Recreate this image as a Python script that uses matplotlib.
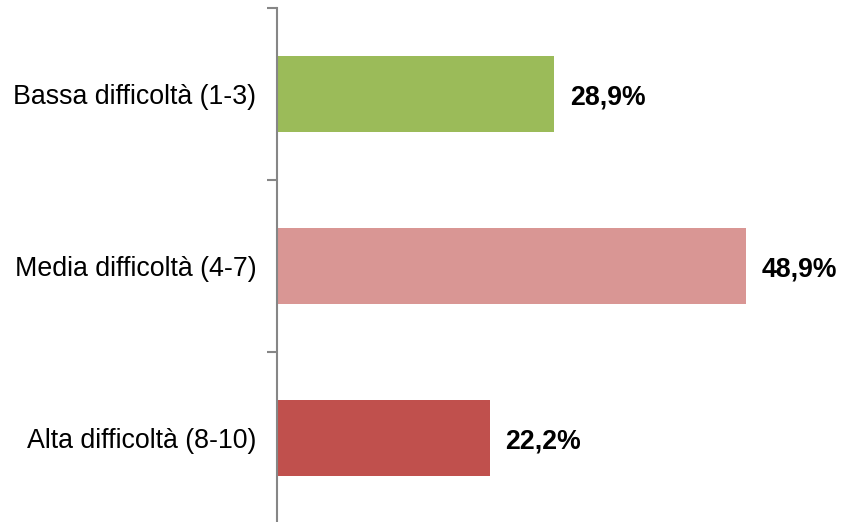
import matplotlib
matplotlib.use("Agg")
import matplotlib.pyplot as plt

categories = ["Bassa difficoltà (1-3)", "Media difficoltà (4-7)", "Alta difficoltà (8-10)"]
values = [28.9, 48.9, 22.2]
labels = ["28,9%", "48,9%", "22,2%"]
colors = ["#9BBB59", "#D99694", "#C0504D"]

plt.rcParams['font.family'] = ['Liberation Sans', 'DejaVu Sans']

W, H = 841, 522
fig = plt.figure(figsize=(W/100, H/100), dpi=100)
ax_left = 277 / W
ax_bottom = -2 / H
ax_top = 8 / H
ax = fig.add_axes([ax_left, ax_bottom, 1 - ax_left - 0.001, 1 - ax_top - ax_bottom])

pos = list(range(len(categories)))[::-1]
ax.barh(pos, values, height=0.44, color=colors, zorder=2)
ax.set_ylim(-0.5, len(categories) - 0.5)
ax.set_xlim(0, (W - 277) / 9.61)

for p, v, lab in zip(pos, values, labels):
    ax.text(v + 1.6, p - 0.02, lab, va='center', ha='left', fontsize=19.2, fontweight='bold', color='black')

ax.set_yticks(pos)
ax.set_yticklabels(categories, fontsize=19.3)
ax.set_yticks([-0.5, 0.5, 1.5, 2.5], minor=True)
ax.tick_params(axis='y', which='major', length=0, pad=15)
ax.tick_params(axis='y', which='minor', length=7, width=1.5, color='#868686')
ax.set_xticks([])
for s in ['top', 'right', 'bottom']:
    ax.spines[s].set_visible(False)
ax.spines['left'].set_color('#868686')
ax.spines['left'].set_linewidth(1.5)

fig.savefig("out.png", dpi=100)
